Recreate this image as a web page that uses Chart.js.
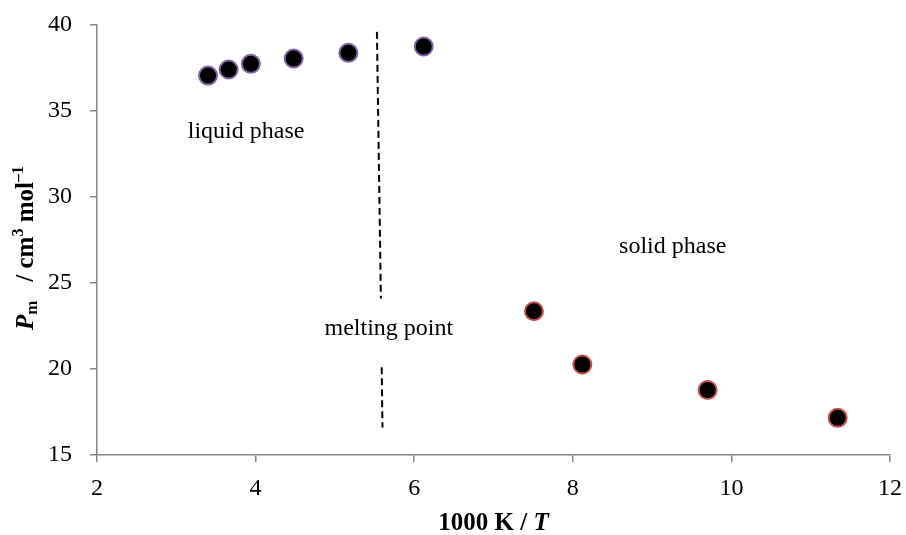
<!DOCTYPE html>
<html>
<head>
<meta charset="utf-8">
<script src="https://cdn.jsdelivr.net/npm/chart.js@4"></script>
<style>
    body { margin: 0; background: #fff; }
    #wrap { width: 906px; height: 535px; }
</style>
</head>
<body>
<div id="wrap"><canvas id="pmChart"></canvas></div>
<script>
//Data
const liquidX = [3.40, 3.66, 3.94, 4.48, 5.17, 6.12];
const liquidY = [37.06, 37.41, 37.74, 38.05, 38.38, 38.75];
const solidX = [7.51, 8.12, 9.70, 11.34];
const solidY = [23.36, 20.26, 18.78, 17.16];

//melting point dashed line, upper and lower piece
const meltUpperX = [5.53, 5.58];
const meltUpperY = [39.6, 24.1];
const meltLowerX = [5.59, 5.60];
const meltLowerY = [20.1, 16.6];

//text labels inside the plot
const noteText = ['liquid phase', 'solid phase', 'melting point'];
const noteX = [3.88, 9.26, 5.68];
const noteY = [33.8, 27.1, 22.35];

const xTicks = [2, 4, 6, 8, 10, 12];
const yTicks = [15, 20, 25, 30, 35, 40];

const serif = '"Liberation Serif", "Times New Roman", serif';
const axisGrey = '#868686';

function toPoints(xs, ys) {
    return xs.map((x, i) => ({x: x, y: ys[i]}));
}

//Draws labels and the axis titles (they need italics, sub- and superscripts)
const textPlugin = {
    id: 'textPlugin',
    afterDraw(chart) {
        const ctx = chart.ctx;
        const xs = chart.scales.x;
        const ys = chart.scales.y;
        const area = chart.chartArea;
        ctx.save();
        ctx.fillStyle = '#000';
        ctx.font = '24px ' + serif;
        ctx.textAlign = 'center';
        ctx.textBaseline = 'middle';
        noteText.forEach((t, i) => {
            ctx.fillText(t, xs.getPixelForValue(noteX[i]), ys.getPixelForValue(noteY[i]));
        });

        //x title: 1000 K / T
        const xParts = [
            {t: '1000 K / ', f: 'bold 25px '},
            {t: 'T', f: 'italic bold 25px '},
        ];
        drawParts(ctx, xParts, (area.left + area.right) / 2, 524);

        //y title: Pm / cm3 mol-1
        ctx.translate(27, (area.top + area.bottom) / 2 + 8);
        ctx.rotate(-Math.PI / 2);
        const yParts = [
            {t: 'P', f: 'italic bold 25px '},
            {t: 'm', f: 'bold 17px ', dy: 6},
            {t: '   / cm', f: 'bold 25px '},
            {t: '3', f: 'bold 16px ', dy: -8},
            {t: ' mol', f: 'bold 25px '},
            {t: '\u20131', f: 'bold 16px ', dy: -8},
        ];
        drawParts(ctx, yParts, 0, 0);
        ctx.restore();
    }
};

function drawParts(ctx, parts, cx, cy) {
    let total = 0;
    parts.forEach(p => {
        ctx.font = p.f + serif;
        p.w = ctx.measureText(p.t).width;
        total += p.w;
    });
    let x = cx - total / 2;
    ctx.textAlign = 'left';
    ctx.textBaseline = 'middle';
    parts.forEach(p => {
        ctx.font = p.f + serif;
        ctx.fillText(p.t, x, cy + (p.dy || 0));
        x += p.w;
    });
}

//Chart
const pmCanvas = document.getElementById('pmChart');
const pmChart = new Chart(pmCanvas, {
    type: 'scatter',
    data: {
        datasets: [{
            label: 'liquid',
            data: toPoints(liquidX, liquidY),
            backgroundColor: '#000',
            borderColor: '#8064a2',
            borderWidth: 2,
            pointRadius: 9,
        }, {
            label: 'solid',
            data: toPoints(solidX, solidY),
            backgroundColor: '#000',
            borderColor: '#c0504d',
            borderWidth: 2,
            pointRadius: 9,
        }, {
            type: 'line',
            label: 'melt upper',
            data: toPoints(meltUpperX, meltUpperY),
            borderColor: '#000',
            borderWidth: 2,
            borderDash: [7, 4],
            pointRadius: 0,
            fill: false,
        }, {
            type: 'line',
            label: 'melt lower',
            data: toPoints(meltLowerX, meltLowerY),
            borderColor: '#000',
            borderWidth: 2,
            borderDash: [7, 4],
            pointRadius: 0,
            fill: false,
        }]
    },
    options: {
        responsive: true,
        maintainAspectRatio: false,
        animation: false,
        layout: {padding: {top: 25, right: 16, left: 0, bottom: 0}},
        plugins: {
            legend: {display: false},
            tooltip: {enabled: false},
        },
        scales: {
            x: {
                type: 'linear',
                min: 2,
                max: 12,
                afterBuildTicks: s => { s.ticks = xTicks.map(v => ({value: v})); },
                afterFit: s => { s.height = 80; s.paddingLeft = 0; s.paddingRight = 0; },
                grid: {drawOnChartArea: false, drawTicks: true, tickLength: 7, color: axisGrey, lineWidth: 1.5},
                border: {color: axisGrey, width: 1.5},
                ticks: {color: '#000', padding: 12, font: {family: serif, size: 24}},
            },
            y: {
                type: 'linear',
                min: 15,
                max: 40,
                afterBuildTicks: s => { s.ticks = yTicks.map(v => ({value: v})); },
                afterFit: s => { s.width = 97; s.paddingTop = 0; s.paddingBottom = 0; },
                grid: {drawOnChartArea: false, drawTicks: true, tickLength: 7, color: axisGrey, lineWidth: 1.5},
                border: {color: axisGrey, width: 1.5},
                ticks: {color: '#000', padding: 18, font: {family: serif, size: 24}},
            }
        }
    },
    plugins: [textPlugin],
});
</script>
</body>
</html>
